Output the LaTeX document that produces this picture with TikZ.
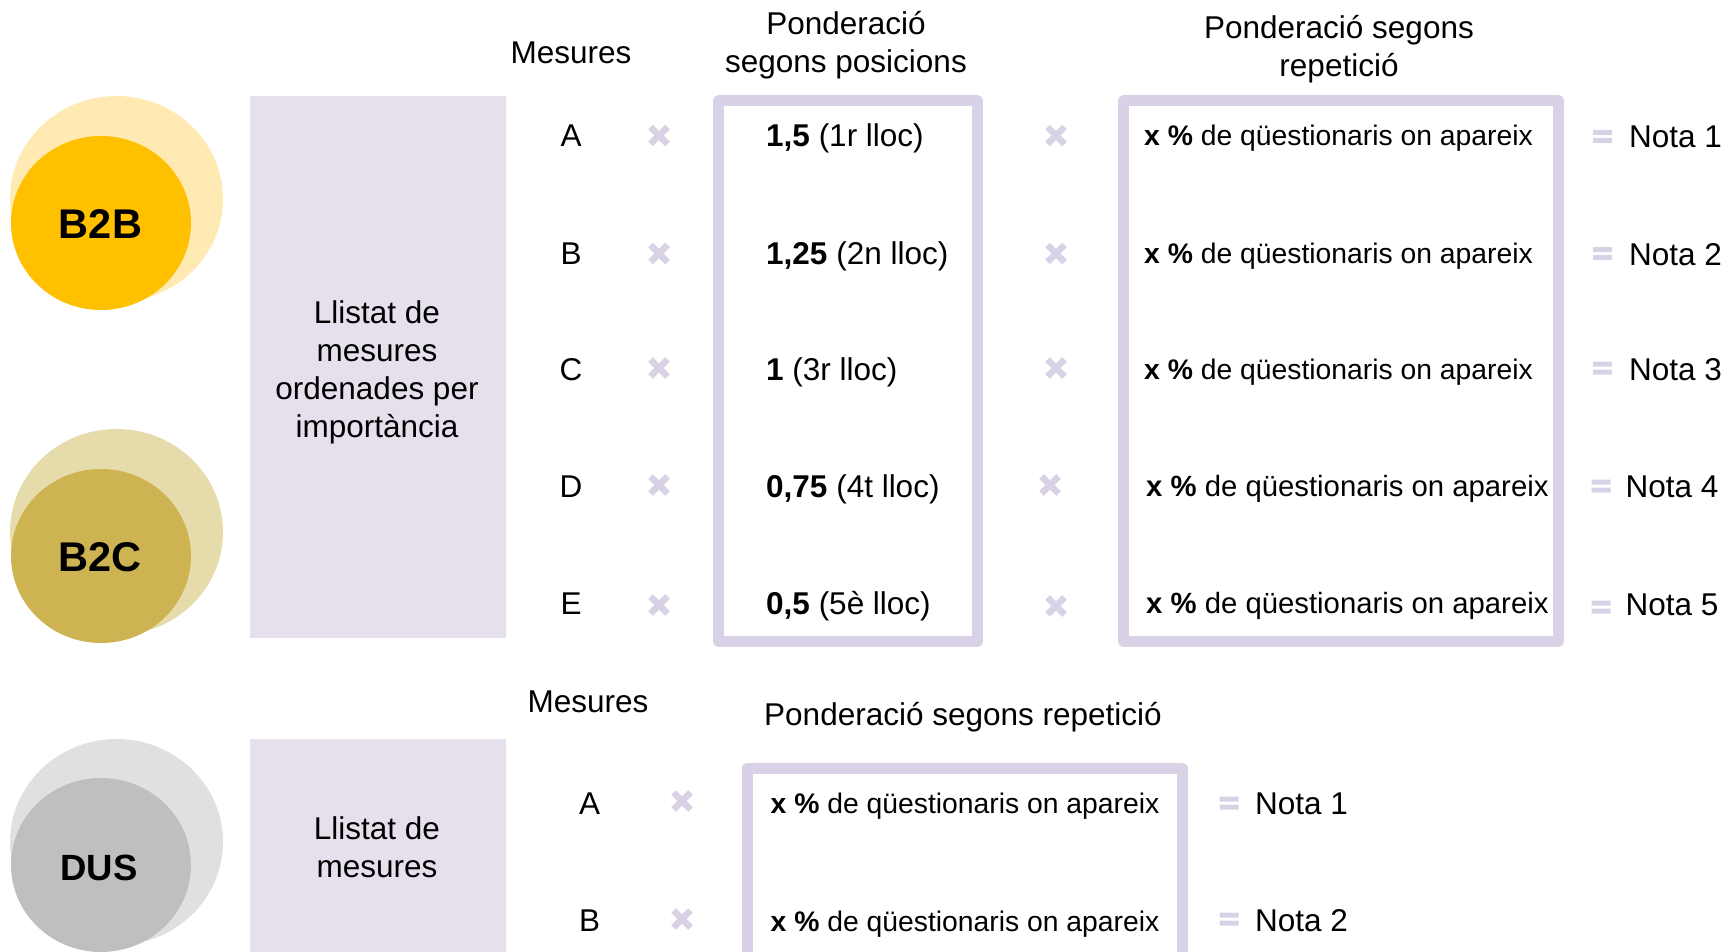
\documentclass[tikz,border=0pt]{standalone}
\usepackage{fontspec}
\setmainfont{Liberation Sans}
\usetikzlibrary{shapes.geometric}
\definecolor{panel}{HTML}{E5E0EC}
\definecolor{boxc}{HTML}{D9D1E5}
\definecolor{markc}{HTML}{D9D1E5}
\definecolor{ydark}{HTML}{FFC000}
\definecolor{ylight}{HTML}{FFEAB3}
\definecolor{gdark}{HTML}{CDB351}
\definecolor{glight}{HTML}{E6DBAA}
\definecolor{sdark}{HTML}{BFBFBF}
\definecolor{slight}{HTML}{E0E0E0}
\begin{document}
\begin{tikzpicture}[x=1pt,y=-1pt,
  txt/.style={inner sep=0pt, font=\fontsize{31.5}{38}\selectfont},
  ptxt/.style={inner sep=0pt, anchor=base west, font=\fontsize{28.3}{34}\selectfont},
  ptxtb/.style={inner sep=0pt, anchor=base west, font=\fontsize{29.3}{35}\selectfont},
  bigcirc/.style={ellipse, inner sep=0pt, minimum width=213pt, minimum height=206pt},
  smallcirc/.style={ellipse, inner sep=0pt, minimum width=180pt, minimum height=174pt},
  lab/.style={inner sep=0pt, anchor=base, font=\fontsize{41.5}{48}\selectfont\bfseries},
  labs/.style={inner sep=0pt, anchor=base, font=\fontsize{36.5}{43}\selectfont\bfseries},
  panelbox/.style={fill=panel, inner sep=0pt},
  frame/.style={draw=boxc, line width=11pt, line join=round, inner sep=0pt},
  timesmark/.pic={\draw[markc, line width=6.5pt] (-8.5,-8.5) -- (8.5,8.5) (-8.5,8.5) -- (8.5,-8.5);},
  eqmark/.pic={\fill[markc] (-9.5,-6.5) rectangle (9.5,-1.5) (-9.5,1.5) rectangle (9.5,6.5);}
]
\useasboundingbox (0,0) rectangle (1728,952);
\clip (0,0) rectangle (1728,952);

% circles
\node[bigcirc, fill=ylight] (b2bL) at (116.5,199) {};
\node[smallcirc, fill=ydark] (b2bD) at (101,223) {};
\node[lab] (b2bT) at (100.5,238.6) {B2B};
\node[bigcirc, fill=glight] (b2cL) at (116.5,532) {};
\node[smallcirc, fill=gdark] (b2cD) at (101,556) {};
\node[lab] (b2cT) at (100,571.4) {B2C};
\node[bigcirc, fill=slight] (dusL) at (116.5,842) {};
\node[smallcirc, fill=sdark] (dusD) at (101,865) {};
\node[labs] (dusT) at (99,880.3) {DUS};

% panels
\node[panelbox, minimum width=256pt, minimum height=542pt] (p1) at (378,367) {};
\node[txt, align=center] (p1t) at (377,372) {Llistat de\\mesures\\ordenades per\\importància};
\node[panelbox, minimum width=256pt, minimum height=221pt] (p2) at (378,849.5) {};
\node[txt, align=center] (p2t) at (377,847) {Llistat de\\mesures};

% headers
\node[txt, anchor=base] (hm1) at (571,63.3) {Mesures};
\node[txt, align=center] (hp1) at (846,45) {Ponderació\\segons posicions};
\node[txt, align=center] (hr1) at (1339,49.5) {Ponderació segons\\repetició};

% frames
\node[frame, minimum width=259pt, minimum height=541pt] (f1) at (848,371) {};
\node[frame, minimum width=435pt, minimum height=541pt] (f2) at (1341,371) {};
\node[frame, minimum width=435.5pt, minimum height=222pt] (f3) at (964.75,879) {};

% rows top
\node[txt, anchor=base] (mA) at (571,146.8) {A};
\node[txt, anchor=base] (mB) at (571,264.8) {B};
\node[txt, anchor=base] (mC) at (571,380.3) {C};
\node[txt, anchor=base] (mD) at (571,497.3) {D};
\node[txt, anchor=base] (mE) at (571,614.3) {E};

\pic at (659,135.5) {timesmark};
\pic at (659,253.5) {timesmark};
\pic at (659,368) {timesmark};
\pic at (659,485) {timesmark};
\pic at (659,605) {timesmark};

\node[txt, anchor=base west] (w1) at (766,146.8) {\textbf{1,5} (1r lloc)};
\node[txt, anchor=base west] (w2) at (766,264.8) {\textbf{1,25} (2n lloc)};
\node[txt, anchor=base west] (w3) at (766,380.3) {\textbf{1} (3r lloc)};
\node[txt, anchor=base west] (w4) at (766,497.3) {\textbf{0,75} (4t lloc)};
\node[txt, anchor=base west] (w5) at (766,614.3) {\textbf{0,5} (5è lloc)};

\pic at (1056,135.5) {timesmark};
\pic at (1056,253.5) {timesmark};
\pic at (1056,368) {timesmark};
\pic at (1050,485) {timesmark};
\pic at (1056,606) {timesmark};

\node[ptxt] (r1) at (1144,145.5) {\textbf{x \%} de qüestionaris on apareix};
\node[ptxt] (r2) at (1144,263.5) {\textbf{x \%} de qüestionaris on apareix};
\node[ptxt] (r3) at (1144,379) {\textbf{x \%} de qüestionaris on apareix};
\node[ptxtb] (r4) at (1146,496.5) {\textbf{x \%} de qüestionaris on apareix};
\node[ptxtb] (r5) at (1146,613.5) {\textbf{x \%} de qüestionaris on apareix};

\pic at (1602.5,136.5) {eqmark};
\pic at (1602.5,253.5) {eqmark};
\pic at (1602.5,368) {eqmark};
\pic at (1601,486) {eqmark};
\pic at (1601,607) {eqmark};

\node[txt, anchor=base west] (n1) at (1629,147.3) {Nota 1};
\node[txt, anchor=base west] (n2) at (1629,265) {Nota 2};
\node[txt, anchor=base west] (n3) at (1629,380.3) {Nota 3};
\node[txt, anchor=base west] (n4) at (1625.5,497.3) {Nota 4};
\node[txt, anchor=base west] (n5) at (1625.5,615.3) {Nota 5};

% bottom section
\node[txt, anchor=base] (hm2) at (588,712.3) {Mesures};
\node[txt, anchor=base west] (hr2) at (764,725.3) {Ponderació segons repetició};
\node[txt, anchor=base] (dA) at (589.5,814.3) {A};
\node[txt, anchor=base] (dB) at (589.5,931.3) {B};
\pic at (682,801) {timesmark};
\pic at (682,919) {timesmark};
\node[ptxt] (s1) at (770.5,813) {\textbf{x \%} de qüestionaris on apareix};
\node[ptxt] (s2) at (770.5,931) {\textbf{x \%} de qüestionaris on apareix};
\pic at (1229,803) {eqmark};
\pic at (1229,919) {eqmark};
\node[txt, anchor=base west] (dn1) at (1255,814.3) {Nota 1};
\node[txt, anchor=base west] (dn2) at (1255,931.3) {Nota 2};
\end{tikzpicture}
\end{document}
